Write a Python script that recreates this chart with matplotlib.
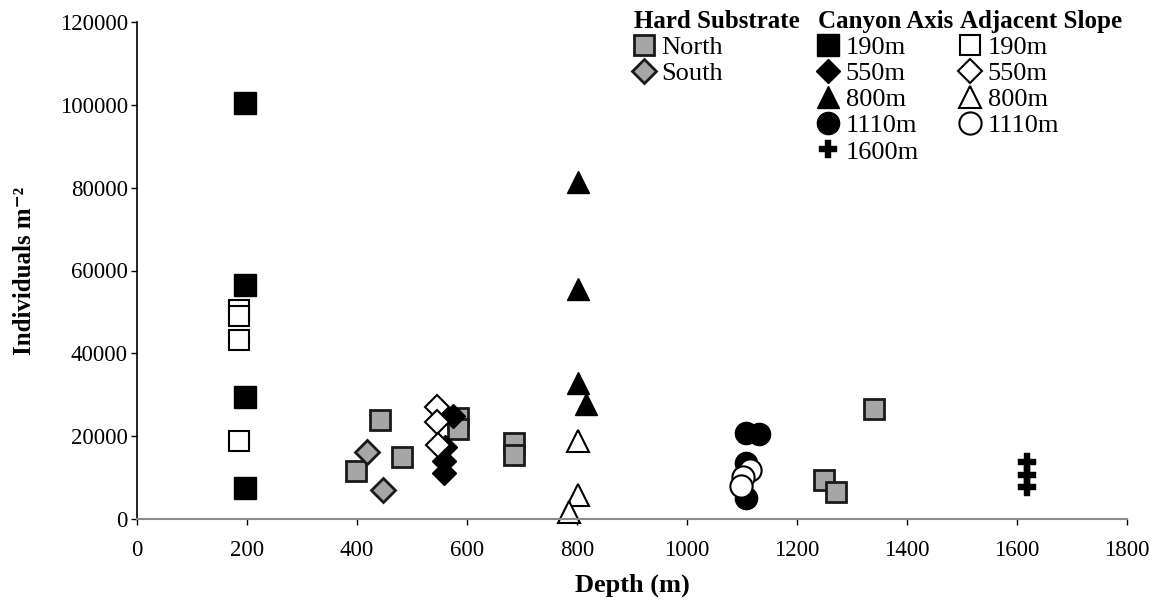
"""
Meiofauna density vs depth: hard substrate, canyon axis and adjacent slope.
"""

import matplotlib
matplotlib.use("Agg")
import matplotlib.pyplot as plt
from matplotlib.lines import Line2D

plt.rcParams["font.family"] = ["Liberation Serif", "DejaVu Serif"]
plt.rcParams["font.size"] = 16

GREY = "#a6a6a6"

# ── Data ──────────────────────────────────────────────────────────────────────
# Hard substrate
north_depth = [398, 442, 482, 584, 584, 685, 685, 1249, 1271, 1340]
north_ind = [11500, 23800, 15000, 24400, 21700, 18300, 15500, 9400, 6500, 26600]
south_depth = [418, 447]
south_ind = [16200, 6900]

# Canyon axis
ca190_depth = [196, 196, 196, 196]
ca190_ind = [100400, 56500, 29500, 7500]
ca550_depth = [575, 560, 558, 558]
ca550_ind = [24800, 17500, 14000, 11000]
ca800_depth = [801, 801, 801, 816]
ca800_ind = [81400, 55500, 32800, 27800]
ca1110_depth = [1107, 1131, 1107, 1108]
ca1110_ind = [20800, 20500, 13500, 5100]
ca1600_depth = [1618, 1618, 1618]
ca1600_ind = [13800, 10700, 7700]

# Adjacent slope
as190_depth = [186, 186, 186, 186]
as190_ind = [50400, 49000, 43200, 18800]
as550_depth = [545, 545, 547]
as550_ind = [27000, 23400, 17900]
as800_depth = [801, 801, 786]
as800_ind = [18800, 5800, 1600]
as1110_depth = [1115, 1102, 1098]
as1110_ind = [11800, 10100, 8000]

# ── Styles ────────────────────────────────────────────────────────────────────
sty_north = dict(marker="s", ms=15, mfc=GREY, mec="#1a1a1a", mew=2)
sty_south = dict(marker="D", ms=12.5, mfc=GREY, mec="#1a1a1a", mew=2)
sty_ca190 = dict(marker="s", ms=16, mfc="black", mec="black", mew=1)
sty_ca550 = dict(marker="D", ms=12.5, mfc="black", mec="black", mew=1)
sty_ca800 = dict(marker="^", ms=16, mfc="black", mec="black", mew=1)
sty_ca1110 = dict(marker="o", ms=16, mfc="black", mec="black", mew=1)
sty_ca1600 = dict(marker="P", ms=12.5, mfc="black", mec="black", mew=0.3)
sty_as190 = dict(marker="s", ms=15, mfc="white", mec="black", mew=1.5)
sty_as550 = dict(marker="D", ms=12.5, mfc="white", mec="black", mew=1.5)
sty_as800 = dict(marker="^", ms=16, mfc="white", mec="black", mew=1.5)
sty_as1110 = dict(marker="o", ms=16, mfc="white", mec="black", mew=1.5)

fig = plt.figure(figsize=(11.64, 6.07), dpi=100)
ax = fig.add_axes([137 / 1164, 1 - 519 / 607, (1127 - 137) / 1164, (519 - 22) / 607])

series = [
    (north_depth, north_ind, sty_north),
    (south_depth, south_ind, sty_south),
    (ca190_depth, ca190_ind, sty_ca190),
    (ca550_depth, ca550_ind, sty_ca550),
    (ca800_depth, ca800_ind, sty_ca800),
    (ca1110_depth, ca1110_ind, sty_ca1110),
    (ca1600_depth, ca1600_ind, sty_ca1600),
    (as190_depth, as190_ind, sty_as190),
    (as550_depth, as550_ind, sty_as550),
    (as800_depth, as800_ind, sty_as800),
    (as1110_depth, as1110_ind, sty_as1110),
]
for xs, ys, sty in series:
    ax.plot(xs, ys, ls="none", clip_on=False, **sty)

ax.set_xlim(0, 1800)
ax.set_ylim(0, 120000)
ax.set_xticks(range(0, 1801, 200))
ax.set_yticks(range(0, 120001, 20000))
ax.spines["top"].set_visible(False)
ax.spines["right"].set_visible(False)
ax.spines["left"].set_color("black")
ax.spines["left"].set_linewidth(1.2)
ax.spines["bottom"].set_color("#8a8a8a")
ax.spines["bottom"].set_linewidth(1.5)
ax.tick_params(axis="both", direction="out", length=4, width=1, labelsize=16.5)
ax.tick_params(axis="x", pad=11)
ax.tick_params(axis="y", pad=2.5)
ax.set_xlabel("Depth (m)", fontweight="bold", fontsize=19, labelpad=9)
ax.set_ylabel("Individuals m\u207b\u00b2", fontweight="bold", fontsize=18, labelpad=17)

# ── Legends ───────────────────────────────────────────────────────────────────
def make_legend(title, entries, x_px):
    handles = [Line2D([], [], ls="none", **sty) for sty, _ in entries]
    labels = [lab for _, lab in entries]
    leg = fig.legend(handles, labels, title=title, loc="upper left",
                     bbox_to_anchor=(x_px / 1164, 1 - 10 / 607),
                     frameon=False, borderpad=0, borderaxespad=0,
                     handlelength=0.75, handletextpad=0.3, labelspacing=0.1,
                     alignment="left", fontsize=19,
                     title_fontproperties={"weight": "bold", "size": 18})
    return leg

make_legend("Hard Substrate",
            [(sty_north, "North"), (sty_south, "South")], 634)
make_legend("Canyon Axis",
            [(sty_ca190, "190m"), (sty_ca550, "550m"), (sty_ca800, "800m"),
             (sty_ca1110, "1110m"), (sty_ca1600, "1600m")], 818)
make_legend("Adjacent Slope",
            [(sty_as190, "190m"), (sty_as550, "550m"), (sty_as800, "800m"),
             (sty_as1110, "1110m")], 960)

fig.savefig("out.png", dpi=100)
